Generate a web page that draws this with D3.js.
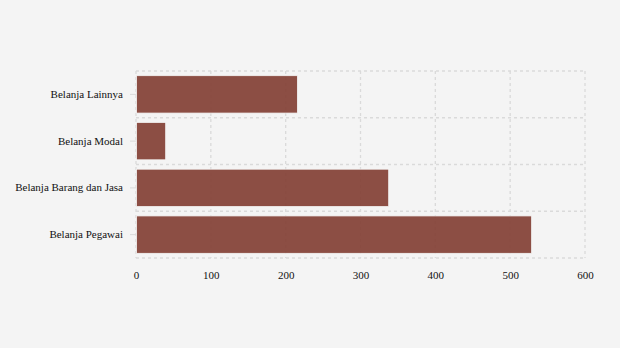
<!DOCTYPE html>
<html>
<head>
<meta charset="utf-8">
<script src="https://cdn.jsdelivr.net/npm/d3@7"></script>
<style>
  body { margin: 0; background: #f4f4f4; }
  svg { display: block; }
</style>
</head>
<body>
<div id="chart"></div>
<script>
const categories = ["Belanja Lainnya", "Belanja Modal", "Belanja Barang dan Jasa", "Belanja Pegawai"];
const values = [215, 39, 337, 528];
const xTicks = [0, 100, 200, 300, 400, 500, 600];

const width = 620, height = 348;
const margin = {top: 71, right: 35, bottom: 90, left: 136};

const svg = d3.select("#chart").append("svg")
    .attr("width", width)
    .attr("height", height)
    .style("background", "#f4f4f4");

const x = d3.scaleLinear().domain([0, 600]).range([margin.left, width - margin.right]);
const y = d3.scaleBand().domain(categories).range([margin.top, height - margin.bottom])
    .paddingInner(0.2).paddingOuter(0.1);

// grid
const gridStyle = g => g.attr("stroke", "#dadada").attr("stroke-width", 1.3).attr("stroke-dasharray", "3,3");
svg.append("g").call(gridStyle)
  .selectAll("line").data(xTicks).join("line")
    .attr("x1", d => x(d)).attr("x2", d => x(d))
    .attr("y1", margin.top).attr("y2", height - margin.bottom);

const bandEdges = categories.map(c => y(c) - y.step() * 0.1).concat([height - margin.bottom]);
svg.append("g").call(gridStyle)
  .selectAll("line").data(bandEdges).join("line")
    .attr("x1", margin.left).attr("x2", width - margin.right)
    .attr("y1", d => d).attr("y2", d => d);

// bars
svg.append("g").selectAll("rect").data(categories).join("rect")
    .attr("x", x(0) + 0.5)
    .attr("y", d => y(d))
    .attr("width", (d, i) => x(values[i]) - x(0))
    .attr("height", y.bandwidth())
    .attr("fill", "#86443a")
    .attr("fill-opacity", 0.95)
    .attr("stroke", "#f4f4f4")
    .attr("stroke-width", 0.8);

// axes
const xAxis = svg.append("g")
    .attr("transform", `translate(0,${height - margin.bottom})`)
    .call(d3.axisBottom(x).tickValues(xTicks).tickSize(0).tickPadding(13));
xAxis.select(".domain").remove();

const yAxis = svg.append("g")
    .attr("transform", `translate(${margin.left},0)`)
    .call(d3.axisLeft(y).tickSize(6).tickPadding(7));
yAxis.select(".domain").remove();
yAxis.selectAll(".tick line").attr("stroke", "#dadada");

svg.selectAll(".tick text")
    .attr("font-family", "'Liberation Serif', 'DejaVu Serif', serif")
    .attr("font-size", 11)
    .attr("fill", "#111");
</script>
</body>
</html>
